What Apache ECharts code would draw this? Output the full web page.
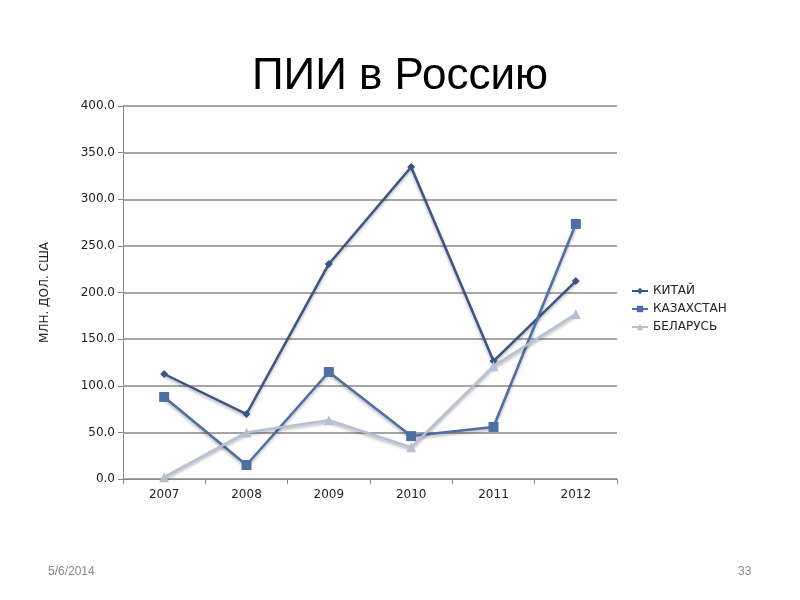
<!DOCTYPE html>
<html lang="ru">
<head>
<meta charset="UTF-8">
<title>ПИИ в Россию</title>
<script src="https://cdn.jsdelivr.net/npm/echarts@6/dist/echarts.min.js"></script>
</head>
<body style="margin:0;background:#fff;">
<div id="chart" style="width:800px;height:600px"></div>
<script>
var years = ['2007', '2008', '2009', '2010', '2011', '2012'];
var china = [112.6, 69.7, 230.6, 334.6, 126.5, 212.3];
var kazakhstan = [88, 15, 114.7, 46, 55.8, 273.5];
var belarus = [2, 50, 63, 34, 121, 177];

var chart = echarts.init(document.getElementById('chart'));

function line(name, data, color, symbol, size) {
    return {
        name: name, type: 'line', data: data,
        symbol: symbol, symbolSize: size,
        lineStyle: {color: color, width: 2.5, shadowColor: 'rgba(0,0,0,0.3)', shadowBlur: 3, shadowOffsetY: 2},
        itemStyle: {color: color}
    };
}

chart.setOption({
    animation: false,
    title: {
        text: 'ПИИ в Россию', left: 'center', top: 50,
        textStyle: {fontFamily: 'Liberation Sans', fontSize: 44, fontWeight: 'normal', color: '#000'}
    },
    grid: {left: 123, right: 183, top: 106, bottom: 121},
    legend: {
        orient: 'vertical', left: 626, top: 280, itemGap: 6, itemWidth: 16, itemHeight: 8,
        textStyle: {fontFamily: 'DejaVu Sans', fontSize: 12, color: '#222'},
        data: ['КИТАЙ', 'КАЗАХСТАН', 'БЕЛАРУСЬ']
    },
    xAxis: {
        type: 'category', data: years, boundaryGap: true,
        axisLine: {lineStyle: {color: '#888'}},
        axisTick: {show: true, length: 5, lineStyle: {color: '#888'}},
        axisLabel: {fontFamily: 'DejaVu Sans', fontSize: 12, color: '#222', margin: 10}
    },
    yAxis: {
        type: 'value', min: 0, max: 400, interval: 50,
        name: 'МЛН. ДОЛ. США', nameLocation: 'middle', nameGap: 72, nameRotate: 90,
        nameTextStyle: {fontFamily: 'DejaVu Sans', fontSize: 12, color: '#222'},
        axisLine: {show: true, lineStyle: {color: '#888'}},
        axisTick: {show: true, length: 5, lineStyle: {color: '#888'}},
        splitLine: {lineStyle: {color: '#888', width: 1.5}},
        axisLabel: {fontFamily: 'DejaVu Sans', fontSize: 12, color: '#222',
            formatter: function (v) { return v.toFixed(1); }}
    },
    series: [
        line('КИТАЙ', china, '#3b5584', 'diamond', 8),
        line('КАЗАХСТАН', kazakhstan, '#4e6fa3', 'rect', 10),
        line('БЕЛАРУСЬ', belarus, '#b4c0d4', 'triangle', 10)
    ],
    graphic: [
        {type: 'text', left: 48, top: 566, style: {text: '5/6/2014', fontFamily: 'Liberation Sans', fontSize: 12, fill: '#8a8a8a'}},
        {type: 'text', left: 738, top: 566, style: {text: '33', fontFamily: 'Liberation Sans', fontSize: 12, fill: '#8a8a8a'}}
    ]
});
</script>
</body>
</html>
